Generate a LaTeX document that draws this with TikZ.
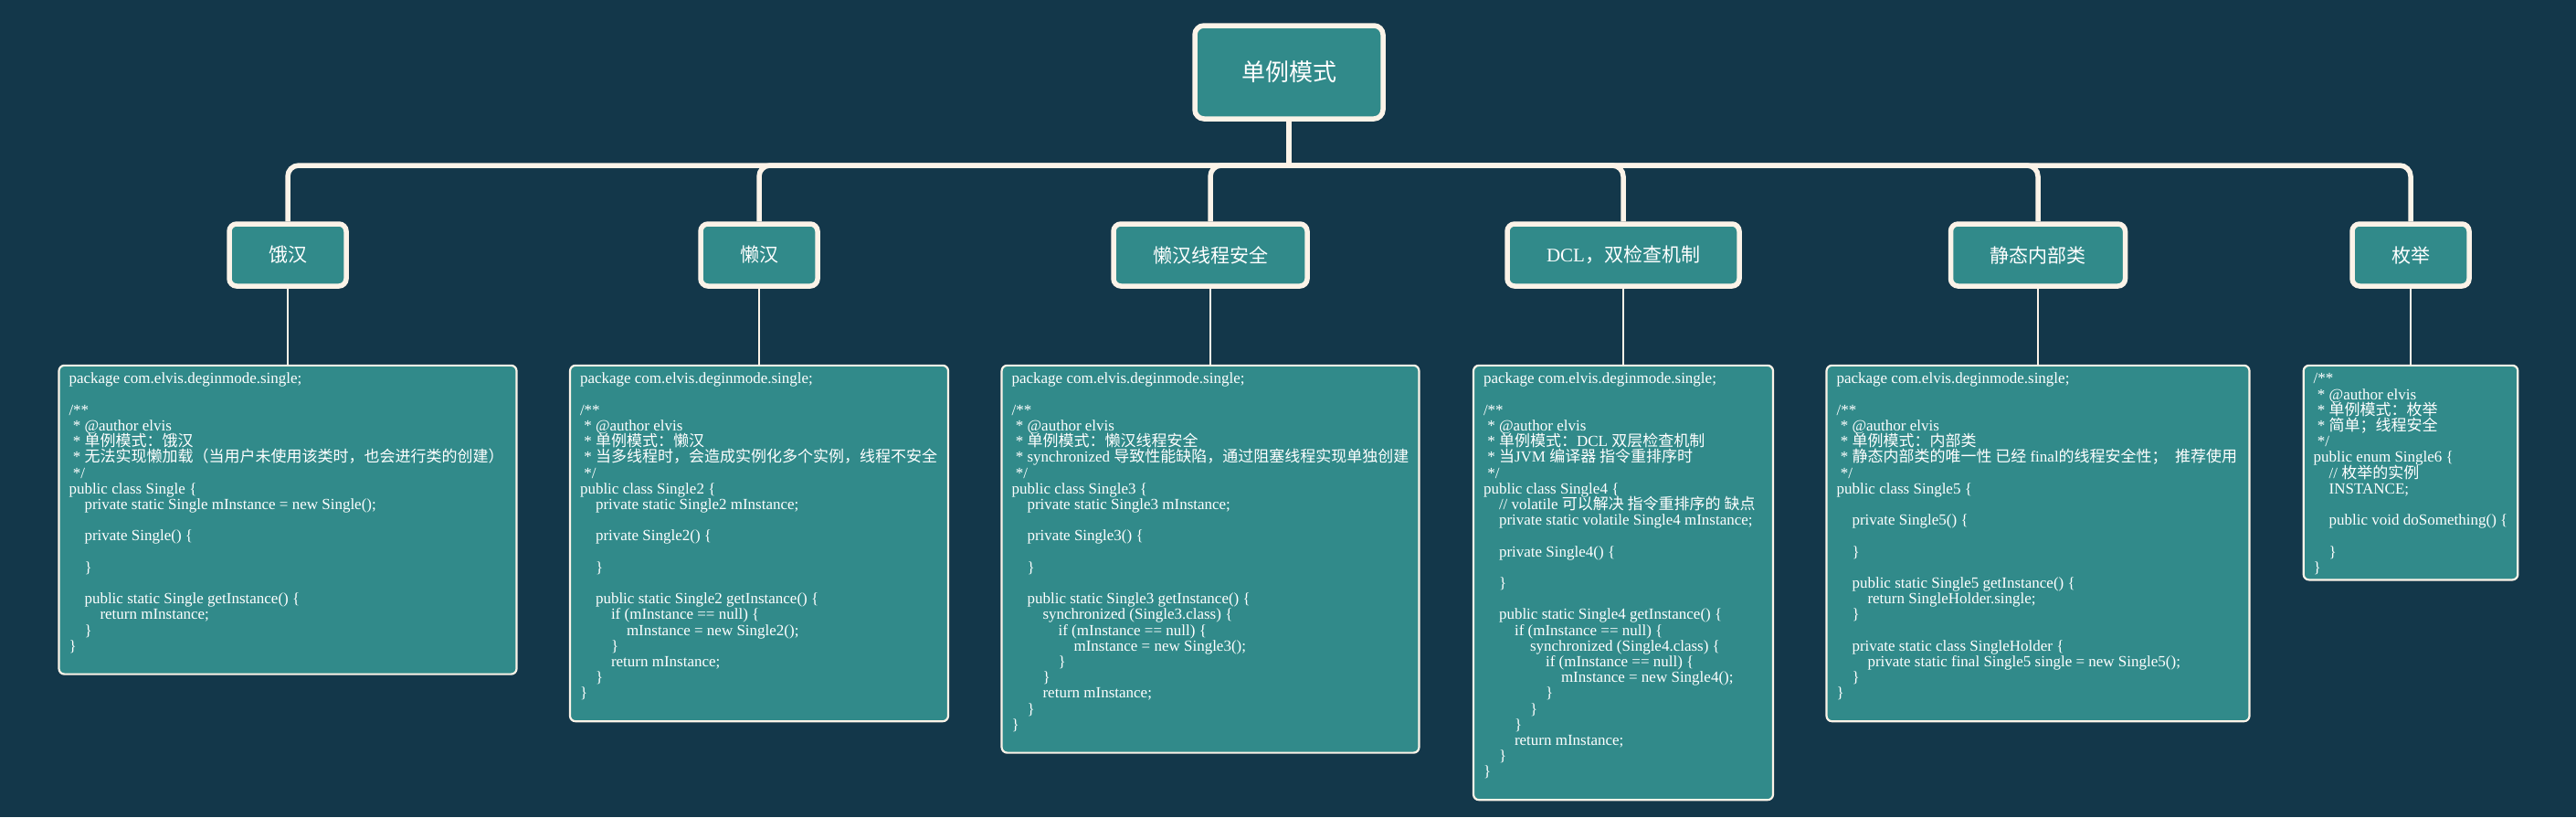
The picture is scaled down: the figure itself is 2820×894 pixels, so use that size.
\documentclass[tikz,border=0pt]{standalone}
\usepackage{fontspec}
\setmainfont{Liberation Serif}
\newfontfamily\cjk{Noto Sans CJK SC}
\usetikzlibrary{positioning}

\definecolor{bgnavy}{HTML}{13374A}
\definecolor{mapteal}{HTML}{318A8A}
\definecolor{mapcream}{HTML}{FBF3E8}

\newcommand\zh[1]{{\cjk #1}}
\newcommand\lvl[1]{\hspace*{#1\dimexpr17pt\relax}\ignorespaces}
\newcommand\codetop{\rule{0pt}{17pt}}
\newcommand\codeend[2][]{\makebox[#2][l]{#1\strut}}
\newcommand\codefont{\fontsize{17pt}{17.2pt}\selectfont\lineskiplimit=-50pt\relax}

\begin{document}
\begin{tikzpicture}[x=1pt, y=-1pt,
rootnode/.style={rectangle, rounded corners=10pt, draw=mapcream, fill=mapteal, line width=5.5pt, text=white, font=\fontsize{26pt}{30pt}\selectfont, inner xsep=51pt, minimum height=102pt},
topicnode/.style={rectangle, rounded corners=8pt, draw=mapcream, fill=mapteal, line width=5.5pt, text=white, font=\fontsize{21pt}{25pt}\selectfont, inner xsep=43pt, minimum height=68pt},
codebox/.style={rectangle, rounded corners=6pt, draw=mapcream, fill=mapteal, line width=2.2pt, text=white, align=left, inner xsep=11pt, inner ysep=3pt, font=\codefont},
trunk/.style={draw=mapcream, line width=5.5pt},
stem/.style={draw=mapcream, line width=1.8pt},
]
\fill[bgnavy] (0,0) rectangle (2820,894);
\useasboundingbox (0,0) rectangle (2820,894);

%Nodes
\node[rootnode]   (root)      at (1411,79)   {\zh{单例模式}};
\node[topicnode]  (ehan)      at (315,279)   {\zh{饿汉}};
\node[topicnode]  (lanhan)    at (831,279)   {\zh{懒汉}};
\node[topicnode]  (lansafe)   at (1325,279)  {\zh{懒汉线程安全}};
\node[topicnode]  (dcl)       at (1777,279)  {DCL\zh{，双检查机制}};
\node[topicnode]  (statinner) at (2231,279)  {\zh{静态内部类}};
\node[topicnode]  (enum)      at (2639,279)  {\zh{枚举}};

\node[codebox] (ehancode) [below=83pt of ehan] {\codetop package com.elvis.deginmode.single;\\
\mbox{}\\
/**\\
\ * @author elvis\\
\ * \zh{单例模式：饿汉}\\
\ * \zh{无法实现懒加载（当用户未使用该类时，也会进行类的创建）}\\
\ */\\
public class Single \{\\
\lvl{1} private static Single mInstance = new Single();\\
\mbox{}\\
\lvl{1} private Single() \{\\
\mbox{}\\
\lvl{1} \}\\
\mbox{}\\
\lvl{1} public static Single getInstance() \{\\
\lvl{2} return mInstance;\\
\lvl{1} \}\\
\}\\
\codeend{479pt}};

\node[codebox] (lanhancode) [below=83pt of lanhan] {\codetop package com.elvis.deginmode.single;\\
\mbox{}\\
/**\\
\ * @author elvis\\
\ * \zh{单例模式：懒汉}\\
\ * \zh{当多线程时，会造成实例化多个实例，线程不安全}\\
\ */\\
public class Single2 \{\\
\lvl{1} private static Single2 mInstance;\\
\mbox{}\\
\lvl{1} private Single2() \{\\
\mbox{}\\
\lvl{1} \}\\
\mbox{}\\
\lvl{1} public static Single2 getInstance() \{\\
\lvl{2} if (mInstance == null) \{\\
\lvl{3} mInstance = new Single2();\\
\lvl{2} \}\\
\lvl{2} return mInstance;\\
\lvl{1} \}\\
\}\\
\codeend{392pt}};

\node[codebox] (lansafecode) [below=83pt of lansafe] {\codetop package com.elvis.deginmode.single;\\
\mbox{}\\
/**\\
\ * @author elvis\\
\ * \zh{单例模式：懒汉线程安全}\\
\ * synchronized \zh{导致性能缺陷，通过阻塞线程实现单独创建}\\
\ */\\
public class Single3 \{\\
\lvl{1} private static Single3 mInstance;\\
\mbox{}\\
\lvl{1} private Single3() \{\\
\mbox{}\\
\lvl{1} \}\\
\mbox{}\\
\lvl{1} public static Single3 getInstance() \{\\
\lvl{2} synchronized (Single3.class) \{\\
\lvl{3} if (mInstance == null) \{\\
\lvl{4} mInstance = new Single3();\\
\lvl{3} \}\\
\lvl{2} \}\\
\lvl{2} return mInstance;\\
\lvl{1} \}\\
\}\\
\codeend{434pt}};

\node[codebox] (dclcode) [below=83pt of dcl] {\codetop package com.elvis.deginmode.single;\\
\mbox{}\\
/**\\
\ * @author elvis\\
\ * \zh{单例模式：}DCL \zh{双层检查机制}\\
\ * \zh{当}JVM \zh{编译器 指令重排序时}\\
\ */\\
public class Single4 \{\\
\lvl{1} // volatile \zh{可以解决 指令重排序的 缺点}\\
\lvl{1} private static volatile Single4 mInstance;\\
\mbox{}\\
\lvl{1} private Single4() \{\\
\mbox{}\\
\lvl{1} \}\\
\mbox{}\\
\lvl{1} public static Single4 getInstance() \{\\
\lvl{2} if (mInstance == null) \{\\
\lvl{3} synchronized (Single4.class) \{\\
\lvl{4} if (mInstance == null) \{\\
\lvl{5} mInstance = new Single4();\\
\lvl{4} \}\\
\lvl{3} \}\\
\lvl{2} \}\\
\lvl{2} return mInstance;\\
\lvl{1} \}\\
\}\\
\codeend{306pt}};

\node[codebox] (statinnercode) [below=83pt of statinner] {\codetop package com.elvis.deginmode.single;\\
\mbox{}\\
/**\\
\ * @author elvis\\
\ * \zh{单例模式：内部类}\\
\ * \zh{静态内部类的唯一性 已经} final\zh{的线程安全性；}\ \ \zh{推荐使用}\\
\ */\\
public class Single5 \{\\
\mbox{}\\
\lvl{1} private Single5() \{\\
\mbox{}\\
\lvl{1} \}\\
\mbox{}\\
\lvl{1} public static Single5 getInstance() \{\\
\lvl{2} return SingleHolder.single;\\
\lvl{1} \}\\
\mbox{}\\
\lvl{1} private static class SingleHolder \{\\
\lvl{2} private static final Single5 single = new Single5();\\
\lvl{1} \}\\
\}\\
\codeend{441pt}};

\node[codebox] (enumcode) [below=83pt of enum] {\codetop /**\\
\ * @author elvis\\
\ * \zh{单例模式：枚举}\\
\ * \zh{简单；线程安全}\\
\ */\\
public enum Single6 \{\\
\lvl{1} // \zh{枚举的实例}\\
\lvl{1} INSTANCE;\\
\mbox{}\\
\lvl{1} public void doSomething() \{\\
\mbox{}\\
\lvl{1} \}\\
\codeend[\}]{210pt}};

%Lines
\coordinate (bus) at (0,181);
\draw[trunk] (root.south) -- (root.south |- bus);
\foreach \topic in {ehan,lanhan,lansafe,dcl,statinner,enum}
  \draw[trunk, rounded corners=12pt] (root.south |- bus) -| (\topic.north);
\foreach \topic in {ehan,lanhan,lansafe,dcl,statinner,enum}
  \draw[stem] (\topic.south) -- (\topic code.north);
\end{tikzpicture}
\end{document}
